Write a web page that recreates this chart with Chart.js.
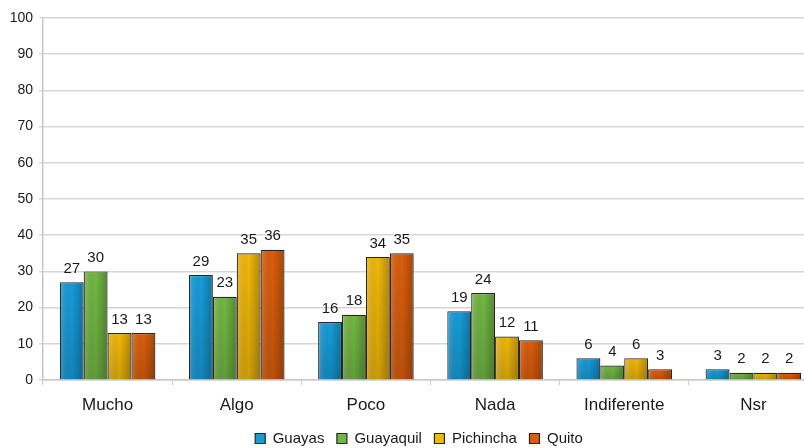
<!DOCTYPE html>
<html>
<head>
<meta charset="utf-8">
<script src="https://cdn.jsdelivr.net/npm/chart.js@4.4.1/dist/chart.umd.min.js"></script>
<style>
    html, body { margin: 0; padding: 0; background: #fff; overflow: hidden; }
    #wrap { width: 818px; height: 448px; position: relative; }
</style>
</head>
<body>
<div id="wrap"><canvas id="chart"></canvas></div>
<script>
    var categories = ["Mucho", "Algo", "Poco", "Nada", "Indiferente", "Nsr"];
    var seriesNames = ["Guayas", "Guayaquil", "Pichincha", "Quito"];
    var guayas = [27, 29, 16, 19, 6, 3];
    var guayaquil = [30, 23, 18, 24, 4, 2];
    var pichincha = [13, 35, 34, 12, 6, 2];
    var quito = [13, 36, 35, 11, 3, 2];
    var yTicks = [0, 10, 20, 30, 40, 50, 60, 70, 80, 90, 100];

    var fills = ["#159dda", "#72b843", "#f1b80a", "#dc5e0c"];
    var values = [guayas, guayaquil, pichincha, quito];

    // shades each bar left-to-right and writes its value above it
    var barDecor = {
        id: 'barDecor',
        afterLayout: function (chart) {
            // nudge the legend a little lower and right
            var lg = chart.legend;
            lg.top += 8;
            lg.bottom += 8;
            lg.left += 10;
            lg.right += 10;
        },
        afterDatasetsDraw: function (chart) {
            var ctx = chart.ctx;
            ctx.save();
            chart.data.datasets.forEach(function (ds, i) {
                var meta = chart.getDatasetMeta(i);
                meta.data.forEach(function (bar, j) {
                    var left = bar.x - bar.width / 2,
                        top = bar.y,
                        h = bar.base - bar.y,
                        g = ctx.createLinearGradient(left, 0, left + bar.width, 0);
                    g.addColorStop(0, 'rgba(255,255,255,0.2)');
                    g.addColorStop(0.5, 'rgba(0,0,0,0)');
                    g.addColorStop(1, 'rgba(0,0,0,0.25)');
                    ctx.fillStyle = g;
                    ctx.fillRect(left + 1, top + 1, bar.width - 2, h - 1);
                    var v = ctx.createLinearGradient(0, top, 0, bar.base);
                    v.addColorStop(0, 'rgba(0,0,0,0)');
                    v.addColorStop(1, 'rgba(0,0,0,0.15)');
                    ctx.fillStyle = v;
                    ctx.fillRect(left + 1, top + 1, bar.width - 2, h - 1);

                    ctx.fillStyle = '#1a1a1a';
                    ctx.font = '15px "Liberation Sans", Arial, sans-serif';
                    ctx.textAlign = 'center';
                    ctx.textBaseline = 'bottom';
                    ctx.fillText(String(ds.data[j]), bar.x, top - 6);
                });
            });
            ctx.restore();
        }
    };

    var datasets = seriesNames.map(function (name, i) {
        return {
            label: name,
            data: values[i],
            backgroundColor: fills[i],
            borderColor: '#262626',
            borderWidth: 1.2,
            categoryPercentage: 0.74,
            barPercentage: 1.0
        };
    });

    new Chart(document.getElementById('chart'), {
        type: 'bar',
        data: { labels: categories, datasets: datasets },
        plugins: [barDecor],
        options: {
            responsive: true,
            maintainAspectRatio: false,
            animation: false,
            layout: { padding: { top: 18, right: 0, left: 0, bottom: 0 } },
            scales: {
                x: {
                    afterFit: function (scale) { scale.height = 43; },
                    grid: { display: true, offset: true, drawOnChartArea: false, tickLength: 5, color: '#c8c8c8' },
                    border: { color: '#c8c8c8', width: 1.5 },
                    ticks: { color: '#1a1a1a', font: { size: 17, family: '"Liberation Sans", Arial, sans-serif' }, padding: 10 }
                },
                y: {
                    min: 0,
                    max: 100,
                    afterBuildTicks: function (scale) {
                        scale.ticks = yTicks.map(function (v) { return { value: v }; });
                    },
                    afterFit: function (scale) { scale.width = 43; },
                    grid: { color: '#d6d6d6', lineWidth: 1.5, tickLength: 4 },
                    border: { color: '#c8c8c8', width: 1.5 },
                    ticks: { color: '#1a1a1a', font: { size: 14, family: '"Liberation Sans", Arial, sans-serif' }, padding: 6 }
                }
            },
            plugins: {
                legend: {
                    position: 'bottom',
                    labels: {
                        boxWidth: 10,
                        boxHeight: 10,
                        padding: 0,
                        color: '#1a1a1a',
                        font: { size: 15, family: '"Liberation Sans", Arial, sans-serif' },
                        generateLabels: function (chart) {
                            // keep the default items, pad the text so entries stay apart
                            var items = Chart.defaults.plugins.legend.labels.generateLabels(chart);
                            return items.map(function (item, k) {
                                if (k < items.length - 1) {
                                    item.text = item.text + '   ';
                                }
                                return item;
                            });
                        }
                    }
                },
                tooltip: { enabled: false }
            }
        }
    });
</script>
</body>
</html>
